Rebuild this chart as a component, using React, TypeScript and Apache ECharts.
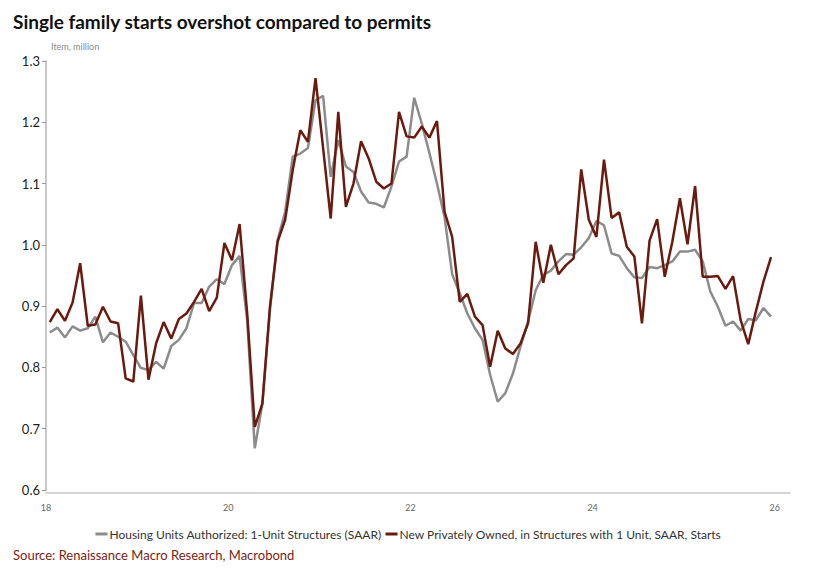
import React, { useEffect, useRef } from "react";
import * as echarts from "echarts";

// Monthly, Jan 2018 .. Dec 2025, millions (SAAR)
const permits: number[] = [
  0.857, 0.865, 0.849, 0.867, 0.860, 0.864, 0.883, 0.841, 0.857, 0.850, 0.842, 0.820,
  0.799, 0.796, 0.809, 0.798, 0.835, 0.845, 0.864, 0.905, 0.905, 0.932, 0.944, 0.936,
  0.967, 0.982, 0.877, 0.668, 0.741, 0.894, 1.008, 1.054, 1.144, 1.149, 1.158, 1.236,
  1.243, 1.111, 1.171, 1.128, 1.119, 1.087, 1.069, 1.067, 1.061, 1.095, 1.136, 1.144,
  1.240, 1.198, 1.150, 1.100, 1.045, 0.952, 0.921, 0.888, 0.864, 0.845, 0.788, 0.744,
  0.758, 0.790, 0.834, 0.875, 0.926, 0.951, 0.958, 0.973, 0.985, 0.984, 0.996, 1.011,
  1.039, 1.032, 0.986, 0.982, 0.962, 0.947, 0.946, 0.964, 0.962, 0.967, 0.973, 0.989,
  0.989, 0.992, 0.973, 0.924, 0.899, 0.868, 0.875, 0.860, 0.879, 0.877, 0.897, 0.883,
];

const starts: number[] = [
  0.874, 0.895, 0.876, 0.906, 0.970, 0.868, 0.870, 0.899, 0.875, 0.872, 0.782, 0.777,
  0.917, 0.780, 0.839, 0.874, 0.847, 0.879, 0.888, 0.907, 0.928, 0.892, 0.914, 1.003,
  0.975, 1.034, 0.888, 0.703, 0.741, 0.899, 1.005, 1.041, 1.122, 1.187, 1.168, 1.272,
  1.158, 1.043, 1.217, 1.062, 1.100, 1.169, 1.141, 1.103, 1.092, 1.100, 1.217, 1.177,
  1.175, 1.193, 1.175, 1.202, 1.054, 1.013, 0.907, 0.920, 0.883, 0.869, 0.801, 0.860,
  0.831, 0.822, 0.839, 0.872, 1.005, 0.938, 1.000, 0.952, 0.967, 0.978, 1.123, 1.041,
  1.013, 1.139, 1.044, 1.053, 0.997, 0.981, 0.872, 1.007, 1.042, 0.948, 1.005, 1.076,
  1.001, 1.096, 0.948, 0.948, 0.949, 0.928, 0.949, 0.877, 0.838, 0.891, 0.940, 0.980,
];

const startYear = 18;
const seriesNames = [
  "Housing Units Authorized: 1-Unit Structures (SAAR)",
  "New Privately Owned, in Structures with 1 Unit, SAAR, Starts",
];
const titleText = "Single family starts overshot compared to permits";
const unitText = "Item, million";
const sourceText = "Source: Renaissance Macro Research, Macrobond";

const FONT = "Lato, 'Noto Sans', sans-serif";

export default function App() {
  const ref = useRef<HTMLDivElement>(null);
  useEffect(() => {
    if (!ref.current) return;
    const chart = echarts.init(ref.current, null, { renderer: "svg" });
    const toPts = (arr: number[]) => arr.map((v, i) => [i + 0.5, v]);
    chart.setOption({
      animation: false,
      backgroundColor: "#ffffff",
      textStyle: { fontFamily: FONT },
      title: [
        {
          text: titleText,
          left: 8,
          top: 7,
          textStyle: { fontFamily: FONT, fontWeight: "bold", fontSize: 19, color: "#111" },
        },
        {
          text: unitText,
          left: 46,
          top: 37,
          textStyle: { fontFamily: FONT, fontWeight: "normal", fontSize: 9, color: "#8a8a8a" },
        },
        {
          text: sourceText,
          left: 8,
          top: 543,
          textStyle: { fontFamily: FONT, fontWeight: "normal", fontSize: 13, color: "#7a2414" },
        },
      ],
      legend: {
        top: 523,
        left: "center",
        itemGap: 4,
        itemWidth: 12,
        itemHeight: 3,
        icon: "rect",
        textStyle: { fontFamily: FONT, fontSize: 12, color: "#333", padding: [0, 0, 0, -3] },
        data: seriesNames,
      },
      grid: { left: 46, right: 27, top: 61, bottom: 81, containLabel: false },
      xAxis: {
        type: "value",
        min: 0,
        max: 98,
        interval: 24,
        offset: 3,
        axisLine: { show: true, lineStyle: { color: "#c8c8c8", width: 1.5 } },
        axisTick: { show: false },
        splitLine: { show: false },
        axisLabel: {
          fontFamily: FONT,
          fontSize: 9,
          color: "#666",
          margin: 10,
          formatter: (v: number) => String(startYear + v / 12),
        },
      },
      yAxis: {
        type: "value",
        min: 0.6,
        max: 1.3,
        interval: 0.1,
        axisLine: { show: true, lineStyle: { color: "#c8c8c8", width: 2 } },
        axisTick: { show: true, length: 4, lineStyle: { color: "#999" } },
        splitLine: { show: false },
        axisLabel: {
          fontFamily: FONT,
          fontSize: 13,
          color: "#222",
          margin: 6,
          formatter: (v: number) => v.toFixed(1),
        },
      },
      series: [
        {
          name: seriesNames[0],
          type: "line",
          data: toPts(permits),
          showSymbol: false,
          color: "#8c8c8c",
          lineStyle: { width: 2.5, color: "#8c8c8c" },
          z: 2,
        },
        {
          name: seriesNames[1],
          type: "line",
          data: toPts(starts),
          showSymbol: false,
          color: "#6b1a0e",
          lineStyle: { width: 2.5, color: "#6b1a0e" },
          z: 3,
        },
      ],
    });
    return () => chart.dispose();
  }, []);
  return <div ref={ref} style={{ width: 817, height: 571, margin: -8 }} />;
}
